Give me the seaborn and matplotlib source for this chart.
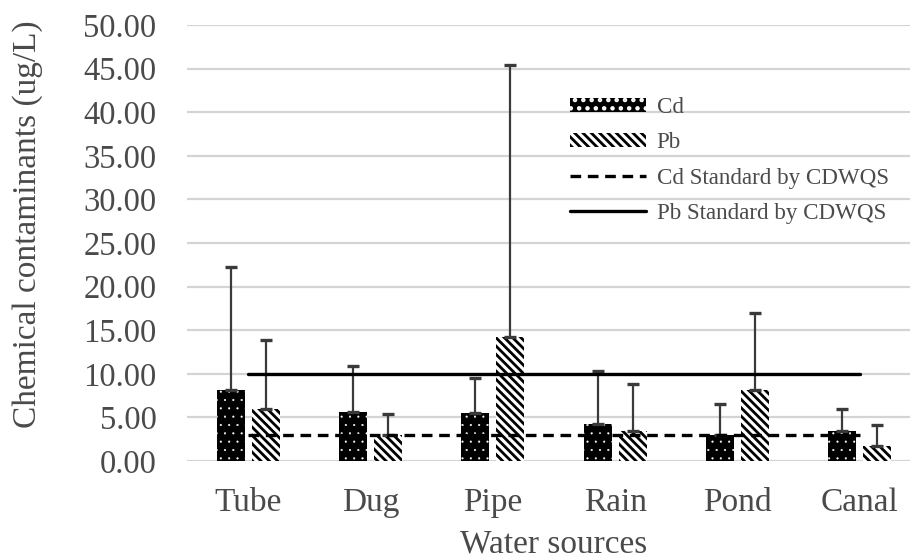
import numpy as np
import pandas as pd
import matplotlib
matplotlib.use('Agg')
import matplotlib.pyplot as plt
import seaborn as sns

# Data
sources = ['Tube', 'Dug', 'Pipe', 'Rain', 'Pond', 'Canal']
cd_mean = [8.1, 5.6, 5.5, 4.2, 3.0, 3.4]
cd_sd = [14.1, 5.3, 4.0, 6.1, 3.5, 2.6]
pb_mean = [6.0, 3.0, 14.2, 3.4, 8.1, 1.7]
pb_sd = [7.9, 2.4, 31.2, 5.4, 8.9, 2.4]
cd_standard = 3.0
pb_standard = 10.0
y_ticks = [0, 5, 10, 15, 20, 25, 30, 35, 40, 45, 50]

df = pd.DataFrame({
    'Source': sources * 2,
    'Metal': ['Cd'] * len(sources) + ['Pb'] * len(sources),
    'Value': cd_mean + pb_mean,
})

sns.set_style('white')
plt.rcParams['font.family'] = ['Liberation Serif', 'DejaVu Serif']
plt.rcParams['hatch.linewidth'] = 2.0
text_color = '#4a4a4a'

fig = plt.figure(figsize=(9.1, 5.6), dpi=100)
ax = fig.add_axes([187 / 910, 99 / 560, 734 / 910, 436 / 560])

sns.barplot(data=df, x='Source', y='Value', hue='Metal', palette=['black', 'white'],
            width=0.572, gap=0.2, errorbar=None, legend=False, ax=ax, zorder=2)

# Patterns: Cd = black with small white dots, Pb = diagonal black stripes
styles = [('black', 'white', '..', 0.3), ('white', 'black', '\\\\\\\\', 2.0)]
for cont, (fc, ec, hatch, hlw) in zip(ax.containers, styles):
    for p in cont:
        p.set_facecolor(fc)
        p.set_edgecolor(ec)
        p.set_linewidth(0)
        p.set_hatch(hatch)
        if hasattr(p, 'set_hatch_linewidth'):
            p.set_hatch_linewidth(hlw)

# Upward-only error bars
for cont, sd in zip(ax.containers, [cd_sd, pb_sd]):
    xs = [p.get_x() + p.get_width() / 2 for p in cont]
    hs = [p.get_height() for p in cont]
    ax.errorbar(xs, hs, yerr=[np.zeros(len(sd)), sd], fmt='none', ecolor='#3a3a3a',
                elinewidth=1.6, capsize=4.5, capthick=2.4, zorder=3)

# Standard lines
pos = np.arange(len(sources))
cd_line, = ax.plot(pos, [cd_standard] * len(pos), color='black', lw=2.4,
                   ls=(0, (3.2, 2)), zorder=4, label='Cd Standard by CDWQS')
pb_line, = ax.plot(pos, [pb_standard] * len(pos), color='black', lw=2.4,
                   zorder=4, label='Pb Standard by CDWQS')

ax.set_ylim(0, 50)
ax.set_xlim(-0.5, len(sources) - 0.5)
ax.set_yticks(y_ticks)
ax.set_yticklabels([f'{v:.2f}' for v in y_ticks])
ax.yaxis.grid(True, color='#d4d4d4', lw=1.6)
ax.set_axisbelow(True)
for s in ax.spines.values():
    s.set_visible(False)
ax.tick_params(axis='y', length=0, pad=22, labelsize=23.5, labelcolor=text_color)
ax.tick_params(axis='x', length=0, pad=19, labelsize=24, labelcolor=text_color)

ax.set_xlabel('Water sources', fontsize=24, color=text_color, labelpad=8)
ax.set_ylabel('Chemical contaminants (ug/L)', fontsize=24, color=text_color)
ax.yaxis.set_label_coords(-0.2166, 0.5436)
ax.yaxis.label.set_va('center')

handles = [ax.containers[0][0], ax.containers[1][0], cd_line, pb_line]
labels = ['Cd', 'Pb', 'Cd Standard by CDWQS', 'Pb Standard by CDWQS']
leg = ax.legend(handles, labels, loc='upper left', bbox_to_anchor=(0.522, 0.835),
                frameon=False, fontsize=16.6, borderpad=0, borderaxespad=0,
                handlelength=3.3, handleheight=0.55, handletextpad=0.45,
                labelspacing=0.62)
for t in leg.get_texts():
    t.set_color(text_color)

fig.savefig('out.png', dpi=100)
